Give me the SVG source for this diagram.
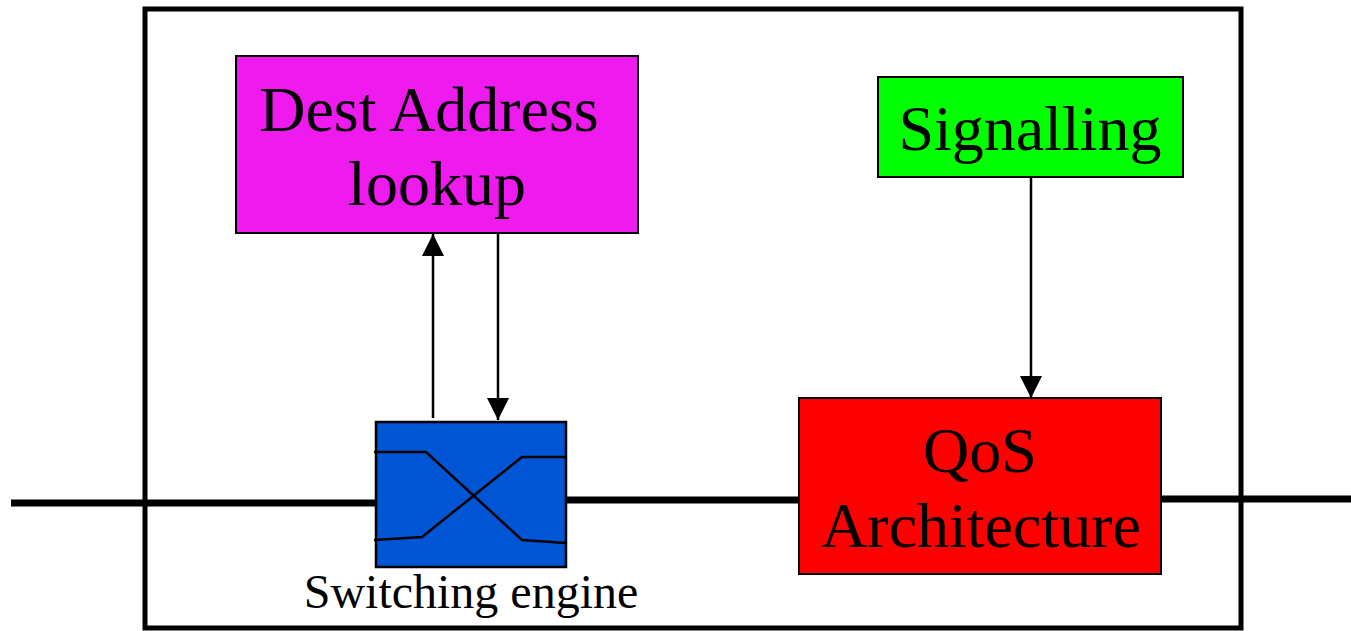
<svg xmlns="http://www.w3.org/2000/svg" width="1351" height="631" viewBox="0 0 1351 631">
<style>
.box{stroke:#000;stroke-width:2}
.lbl{font-family:"Liberation Serif","Times New Roman",serif;font-size:64px;fill:#000;text-anchor:middle}
.small{font-family:"Liberation Serif","Times New Roman",serif;font-size:48px;fill:#000;text-anchor:middle}
.thick{stroke:#000;stroke-width:7;fill:none}
.conn{stroke:#000;stroke-width:2.5;fill:none}
</style>
<defs>
<marker id="arr" viewBox="0 0 10 10" refX="10" refY="5" markerWidth="22" markerHeight="22" markerUnits="userSpaceOnUse" orient="auto">
<path d="M0,0 L10,5 L0,10 z" fill="#000"/>
</marker>
</defs>
<rect x="0" y="0" width="1351" height="631" fill="#fff"/>
<g id="frame">
<rect x="145" y="9" width="1096" height="619" fill="none" stroke="#000" stroke-width="5"/>
</g>
<g id="connectors">
<line class="thick" x1="11" y1="503" x2="376" y2="503"/>
<line class="thick" x1="566" y1="500" x2="799" y2="500"/>
<line class="thick" x1="1161" y1="499" x2="1351" y2="499"/>
<line class="conn" x1="433" y1="418" x2="433" y2="234" marker-end="url(#arr)"/>
<line class="conn" x1="498" y1="234" x2="498" y2="420" marker-end="url(#arr)"/>
<line class="conn" x1="1031" y1="178" x2="1031" y2="398" marker-end="url(#arr)"/>
</g>
<g id="dest">
<rect class="box" x="236" y="56" width="402" height="177" fill="#EE1AEE"/>
<text class="lbl" x="429" y="131">Dest Address</text>
<text class="lbl" x="437" y="205">lookup</text>
</g>
<g id="signalling">
<rect class="box" x="878" y="77" width="305" height="100" fill="#00FF00"/>
<text class="lbl" x="1030" y="150">Signalling</text>
</g>
<g id="qos">
<rect class="box" x="799" y="398" width="362" height="176" fill="#FF0000"/>
<text class="lbl" x="980" y="472">QoS</text>
<text class="lbl" x="981" y="547">Architecture</text>
</g>
<g id="switch">
<rect x="376" y="422" width="190" height="145" fill="#0055D4" stroke="#000" stroke-width="2.5"/>
<polyline points="374,452 426,452 522,540 565,543" fill="none" stroke="#000" stroke-width="2.5"/>
<polyline points="374,540 422,537 522,457 565,457" fill="none" stroke="#000" stroke-width="2.5"/>
<text class="small" x="471" y="608">Switching engine</text>
</g>
</svg>
